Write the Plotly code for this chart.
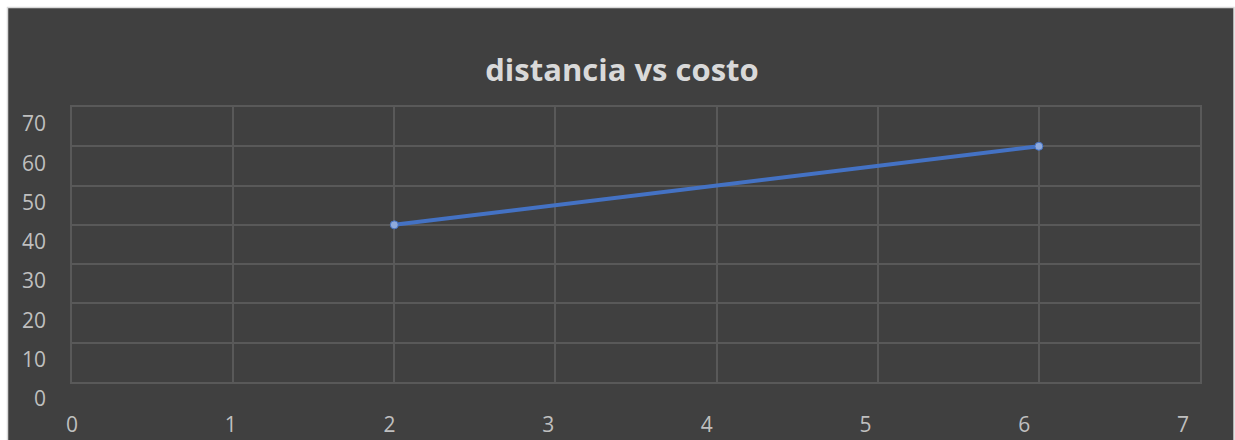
import plotly.graph_objects as go

# Data
distancia = [2, 6]
costo = [40, 60]
x_ticks = [0, 1, 2, 3, 4, 5, 6, 7]
y_ticks = [0, 10, 20, 30, 40, 50, 60, 70]
title_text = "distancia vs costo"

W, H = 1235, 440
L, R, T, B = 72, 35, 107, 58
pw, ph = W - L - R, H - T - B

def px_x(p):
    return (p - L) / pw

def px_y(p):
    return (H - B - p) / ph

BG = "#404040"
GRID = "#595959"
TXT = "#bfbfbf"
FONT = "Open Sans"

fig = go.Figure()
fig.add_trace(go.Scatter(
    x=distancia, y=costo, mode="lines+markers",
    line=dict(color="#4472c4", width=4),
    marker=dict(size=8, color="#8faadc", line=dict(color="#4472c4", width=1)),
    showlegend=False, hoverinfo="x+y",
))
# invisible trace to activate the label axis
fig.add_trace(go.Scatter(
    x=distancia, y=costo, xaxis="x2", mode="markers",
    marker=dict(opacity=0), showlegend=False, hoverinfo="skip",
))

fig.update_layout(
    width=W, height=H, autosize=False,
    margin=dict(l=L, r=R, t=T, b=B, autoexpand=False),
    paper_bgcolor="white",
    plot_bgcolor=BG,
    font=dict(family=FONT, color=TXT, size=21),
    title=dict(text=f"<b>{title_text}</b>", x=622 / W, xanchor="center",
               y=1 - 70 / H, yanchor="middle", yref="container", automargin=False,
               font=dict(family=FONT, size=31, color="#d9d9d9")),
    xaxis=dict(range=[0, 7], tickvals=x_ticks, showticklabels=False, automargin=False,
               showgrid=True, gridcolor=GRID, gridwidth=1.5, zeroline=False,
               showline=True, linecolor=GRID, linewidth=1.5, mirror=True, ticks=""),
    xaxis2=dict(overlaying="x", anchor="y", side="bottom", automargin=False,
                range=[0, 7 * pw / (1183 - L)], tickvals=x_ticks,
                showgrid=False, zeroline=False, showline=False, ticks="",
                ticklabelstandoff=28, tickfont=dict(size=21, color=TXT)),
    yaxis=dict(range=[0, 70], tickvals=y_ticks, showgrid=True, gridcolor=GRID,
               gridwidth=1.5, zeroline=False, showline=True, linecolor=GRID,
               linewidth=1.5, mirror=True, ticks="", ticklabelshift=17, automargin=False,
               ticklabelstandoff=20, tickfont=dict(size=21, color=TXT)),
    shapes=[dict(type="rect", xref="paper", yref="paper", layer="below",
                 x0=px_x(7.5), x1=px_x(1234), y0=px_y(441), y1=px_y(7.5),
                 fillcolor=BG, line=dict(color="#d9d9d9", width=1.5))],
)

fig.write_html(
    "out.html",
    config={"displayModeBar": False, "responsive": False},
    post_script="document.body.style.margin='0';document.body.style.overflow='hidden';",
)
